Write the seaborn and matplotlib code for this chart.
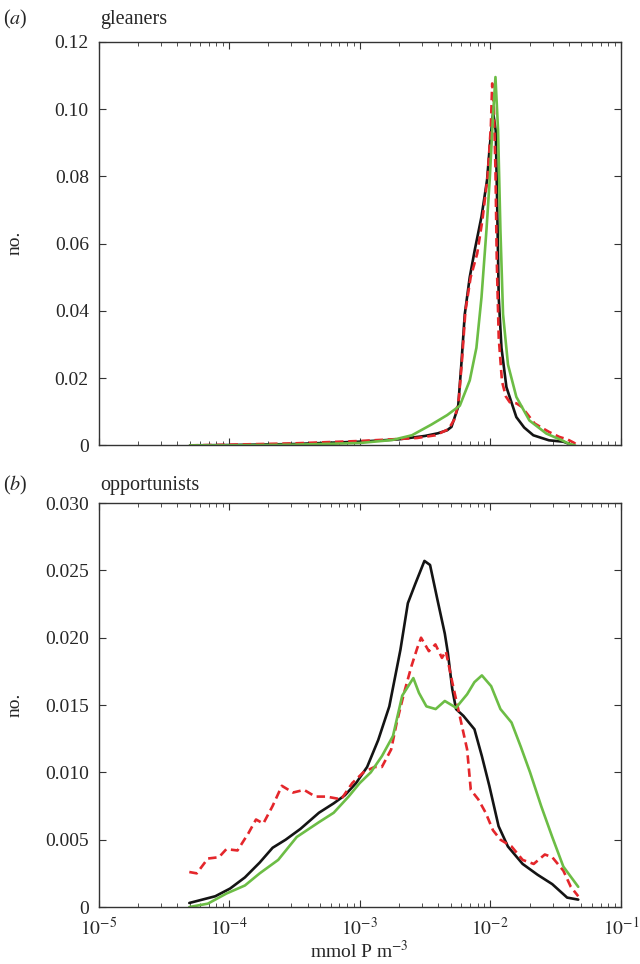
import numpy as np
import pandas as pd
import seaborn as sns
import matplotlib
matplotlib.use("Agg")
import matplotlib.pyplot as plt
from matplotlib.ticker import LogLocator, FixedLocator, NullFormatter

# ---- data (x stored as log10 of mmol P m^-3) ----
# (a) gleaners
gl_black_lx = [-4.3, -4.0, -3.5, -3.0, -2.7, -2.5, -2.4, -2.33, -2.297, -2.246, -2.221, -2.195,
               -2.157, -2.119, -2.067, -2.024, -2.004, -1.978, -1.958, -1.948, -1.935, -1.914,
               -1.876, -1.80, -1.74, -1.67, -1.55, -1.44, -1.40, -1.38]
gl_black_y = [0.0, 0.0001, 0.0004, 0.0011, 0.0018, 0.0028, 0.0036, 0.0045, 0.0055, 0.0114, 0.0243, 0.039,
              0.050, 0.058, 0.068, 0.079, 0.0887, 0.099, 0.0936, 0.074, 0.044, 0.029,
              0.0173, 0.0084, 0.0053, 0.003, 0.0015, 0.0011, 0.0005, 0.0]
gl_red_lx = [-4.3, -4.0, -3.5, -3.0, -2.75, -2.56, -2.42, -2.32, -2.27, -2.24, -2.215, -2.19, -2.15,
             -2.10, -2.06, -2.02, -1.995, -1.985, -1.972, -1.96, -1.95, -1.935, -1.91, -1.88, -1.85,
             -1.80, -1.76, -1.72, -1.66, -1.55, -1.47, -1.41, -1.36, -1.33]
gl_red_y = [0.0, 0.0002, 0.0006, 0.0013, 0.0018, 0.0022, 0.003, 0.0048, 0.008, 0.014, 0.026, 0.040, 0.050,
            0.057, 0.067, 0.080, 0.095, 0.1076, 0.100, 0.082, 0.055, 0.032, 0.019, 0.0145, 0.0128,
            0.0125, 0.0115, 0.0095, 0.0065, 0.004, 0.0025, 0.0018, 0.0008, 0.0]
gl_green_lx = [-4.3, -4.0, -3.5, -3.0, -2.75, -2.6, -2.45, -2.33, -2.233, -2.157, -2.106, -2.067, -2.029,
               -2.004, -1.978, -1.96, -1.94, -1.922, -1.902, -1.864, -1.80, -1.70, -1.57, -1.45, -1.40, -1.35]
gl_green_y = [0.0, 0.0, 0.0002, 0.0007, 0.0016, 0.003, 0.0062, 0.009, 0.0118, 0.0193, 0.029, 0.044, 0.064,
              0.079, 0.0986, 0.1095, 0.0936, 0.064, 0.039, 0.024, 0.0144, 0.0074, 0.0035, 0.0015, 0.0005, 0.0]

# (b) opportunists
op_black_lx = [-4.305, -4.106, -3.993, -3.879, -3.766, -3.667, -3.567, -3.454, -3.312, -3.199, -3.113,
               -3.028, -2.943, -2.858, -2.773, -2.688, -2.631, -2.574, -2.504, -2.461, -2.404, -2.348,
               -2.325, -2.291, -2.262, -2.206, -2.121, -2.064, -2.007, -1.936, -1.865, -1.752, -1.638,
               -1.525, -1.411, -1.326]
op_black_y = [0.0003, 0.0008, 0.00137, 0.0022, 0.0033, 0.0044, 0.0050, 0.0058, 0.0070, 0.0077, 0.0083,
              0.0092, 0.0104, 0.0124, 0.0149, 0.0191, 0.02256, 0.0240, 0.0257, 0.0254, 0.0228, 0.0203,
              0.0189, 0.0162, 0.0147, 0.0142, 0.0132, 0.0112, 0.0090, 0.0060, 0.0045, 0.0032, 0.0024,
              0.0017, 0.0007, 0.00055]
op_red_lx = [-4.305, -4.248, -4.163, -4.078, -4.021, -3.936, -3.851, -3.794, -3.738, -3.667, -3.596,
             -3.511, -3.426, -3.34, -3.255, -3.142, -3.057, -2.972, -2.887, -2.83, -2.759, -2.716,
             -2.66, -2.603, -2.56, -2.53, -2.47, -2.42, -2.37, -2.34, -2.291, -2.234, -2.177, -2.149,
             -2.092, -2.035, -1.979, -1.922, -1.837, -1.752, -1.667, -1.582, -1.525, -1.44, -1.383, -1.326]
op_red_y = [0.0026, 0.0025, 0.0036, 0.0037, 0.0043, 0.0042, 0.0055, 0.0065, 0.0062, 0.0075, 0.0090,
            0.0085, 0.0087, 0.0082, 0.0082, 0.0080, 0.0092, 0.0100, 0.0104, 0.0104, 0.0117, 0.0137,
            0.0159, 0.0179, 0.0192, 0.0200, 0.0190, 0.0195, 0.0185, 0.0190, 0.0167, 0.0142, 0.0117, 0.0087,
            0.0080, 0.0070, 0.0057, 0.0050, 0.0045, 0.0035, 0.0032, 0.0039, 0.0037, 0.0027, 0.0015, 0.0008]
op_green_lx = [-4.305, -4.163, -4.021, -3.879, -3.766, -3.624, -3.482, -3.312, -3.199, -3.085, -3.0,
               -2.915, -2.830, -2.745, -2.674, -2.589, -2.546, -2.489, -2.418, -2.348, -2.262, -2.177,
               -2.121, -2.064, -1.993, -1.922, -1.837, -1.766, -1.695, -1.610, -1.525, -1.440, -1.326]
op_green_y = [0.0, 0.00025, 0.001, 0.0016, 0.0025, 0.0035, 0.0052, 0.0063, 0.0070, 0.0082, 0.0092,
              0.0100, 0.0112, 0.0127, 0.0157, 0.0170, 0.0159, 0.0149, 0.0147, 0.0153, 0.0148, 0.0158,
              0.0167, 0.0172, 0.0164, 0.0147, 0.0137, 0.0119, 0.0100, 0.0075, 0.0052, 0.0030, 0.0015]

gl_yticks = [0, 0.02, 0.04, 0.06, 0.08, 0.10, 0.12]
gl_yticklabels = ["0", "0.02", "0.04", "0.06", "0.08", "0.10", "0.12"]
op_yticks = [0, 0.005, 0.010, 0.015, 0.020, 0.025, 0.030]
op_yticklabels = ["0", "0.005", "0.010", "0.015", "0.020", "0.025", "0.030"]
xticks = [1e-5, 1e-4, 1e-3, 1e-2, 1e-1]
xticklabels = [r"$10^{-5}$", r"$10^{-4}$", r"$10^{-3}$", r"$10^{-2}$", r"$10^{-1}$"]

BLACK = "#141414"
RED = "#e4262b"
GREEN = "#6cbd45"

sns.set_style("ticks")
plt.rcParams["font.family"] = ["Liberation Serif", "DejaVu Serif"]
plt.rcParams["mathtext.fontset"] = "stix"
plt.rcParams["font.size"] = 14

fig = plt.figure(figsize=(6.4, 9.64), dpi=100)
ax_a = fig.add_axes([0.154, 0.538, 0.816, 0.4187])
ax_b = fig.add_axes([0.154, 0.0591, 0.816, 0.4191])


def draw(ax, series, yticks, yticklabels, ymax, show_x):
    for lx, y, col, ls in series:
        df = pd.DataFrame({"x": 10 ** np.array(lx), "y": y})
        sns.lineplot(data=df, x="x", y="y", ax=ax, color=col, linewidth=1.9,
                     linestyle=ls, sort=False)
    ax.set_xscale("log")
    ax.set_xlim(1e-5, 1e-1)
    ax.set_ylim(0, ymax)
    ax.set_yticks(yticks)
    ax.set_yticklabels(yticklabels)
    ax.xaxis.set_major_locator(FixedLocator(xticks))
    ax.xaxis.set_minor_locator(LogLocator(base=10, subs=np.arange(2, 10)))
    ax.xaxis.set_minor_formatter(NullFormatter())
    if show_x:
        ax.set_xticklabels(xticklabels)
        ax.set_xlabel(r"mmol P m$^{-3}$", labelpad=1)
    else:
        ax.set_xticklabels([])
        ax.set_xlabel("")
    ax.set_ylabel("")
    ax.tick_params(which="both", direction="in", top=True, right=True, color="#333333")
    ax.tick_params(which="major", length=5, width=0.8, pad=7)
    ax.tick_params(which="minor", length=3, width=0.6)
    ax.tick_params(axis="x", which="major", pad=7)
    for sp in ax.spines.values():
        sp.set_linewidth(1.0)
        sp.set_color("#333333")


draw(ax_a, [(gl_black_lx, gl_black_y, BLACK, "-"),
            (gl_red_lx, gl_red_y, RED, (0, (3.2, 1.8))),
            (gl_green_lx, gl_green_y, GREEN, "-")],
     gl_yticks, gl_yticklabels, 0.12, False)
draw(ax_b, [(op_black_lx, op_black_y, BLACK, "-"),
            (op_red_lx, op_red_y, RED, (0, (3.2, 1.8))),
            (op_green_lx, op_green_y, GREEN, "-")],
     op_yticks, op_yticklabels, 0.03, True)

# panel letters, titles and y labels
fig.text(15 / 640, 1 - 24 / 964, r"($\mathit{a}$)", ha="center", va="baseline", fontsize=14.5)
fig.text(100 / 640, 1 - 24 / 964, "gleaners", ha="left", va="baseline", fontsize=14.5)
fig.text(15 / 640, 1 - 490 / 964, r"($\mathit{b}$)", ha="center", va="baseline", fontsize=14.5)
fig.text(100 / 640, 1 - 490 / 964, "opportunists", ha="left", va="baseline", fontsize=14.5)
fig.text(15 / 640, 1 - 243 / 964, "no.", rotation=90, ha="center", va="center", fontsize=14)
fig.text(15 / 640, 1 - 705 / 964, "no.", rotation=90, ha="center", va="center", fontsize=14)

fig.savefig("out.png", dpi=100)
